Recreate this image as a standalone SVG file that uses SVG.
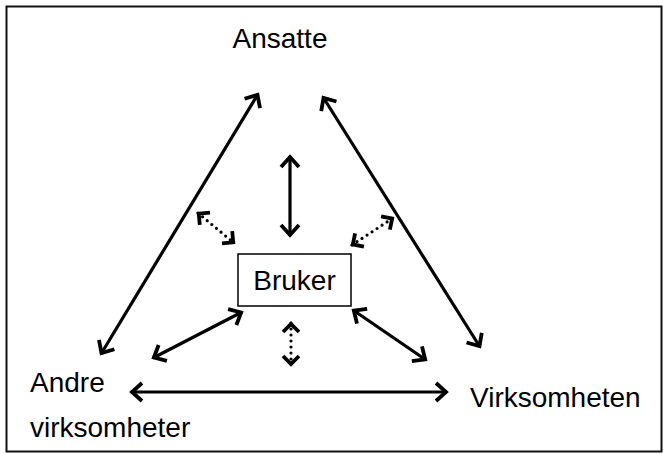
<svg xmlns="http://www.w3.org/2000/svg" width="664" height="454" viewBox="0 0 664 454">
<style>
.lbl{font-family:"Liberation Sans",Arial,sans-serif;font-size:28px;fill:#000}
.solid{stroke:#000;stroke-width:3.2;fill:none;marker-start:url(#ah);marker-end:url(#ah)}
.dot{stroke:#000;stroke-width:3.2;fill:none;stroke-dasharray:0 6;stroke-linecap:round;marker-start:url(#ahs);marker-end:url(#ahs)}
</style>
<defs>
<marker id="ah" markerUnits="userSpaceOnUse" markerWidth="30" markerHeight="30" viewBox="-15 -15 30 30" refX="0" refY="0" orient="auto-start-reverse" overflow="visible">
<path d="M-11,-9 L-1,0 L-11,9" fill="none" stroke="#000" stroke-width="3.8" stroke-linejoin="miter"/>
</marker>
<marker id="ahs" markerUnits="userSpaceOnUse" markerWidth="30" markerHeight="30" viewBox="-15 -15 30 30" refX="0" refY="0" orient="auto-start-reverse" overflow="visible">
<path d="M-9,-8 L-1,0 L-9,8" fill="none" stroke="#000" stroke-width="3.8" stroke-linejoin="miter"/>
</marker>
</defs>
<rect width="664" height="454" fill="#fff"/>
<rect x="6.5" y="6.5" width="655" height="445" fill="none" stroke="#111" stroke-width="2"/>
<g id="ansatte"><text class="lbl" x="280" y="48" text-anchor="middle">Ansatte</text></g>
<g id="bruker"><rect x="238" y="254" width="113" height="52" fill="#fff" stroke="#000" stroke-width="1.5"/><text class="lbl" x="294.5" y="290" text-anchor="middle">Bruker</text></g>
<g id="andre"><text class="lbl" x="30" y="392">Andre</text><text class="lbl" x="30" y="437">virksomheter</text></g>
<g id="virksomheten"><text class="lbl" x="470" y="407">Virksomheten</text></g>
<g id="connectors">
<line class="solid" x1="101" y1="354" x2="258" y2="94"/>
<line class="solid" x1="323" y1="97" x2="480" y2="347"/>
<line class="solid" x1="131" y1="392" x2="447" y2="392"/>
<line class="solid" x1="290" y1="156" x2="290" y2="236"/>
<line class="solid" x1="153" y1="358" x2="242" y2="312"/>
<line class="solid" x1="353" y1="310" x2="426" y2="360"/>
<line class="dot" x1="198" y1="213" x2="234" y2="243"/>
<line class="dot" x1="352" y1="245" x2="393" y2="218"/>
<line class="dot" x1="291" y1="323" x2="291" y2="365"/>
</g>
</svg>
